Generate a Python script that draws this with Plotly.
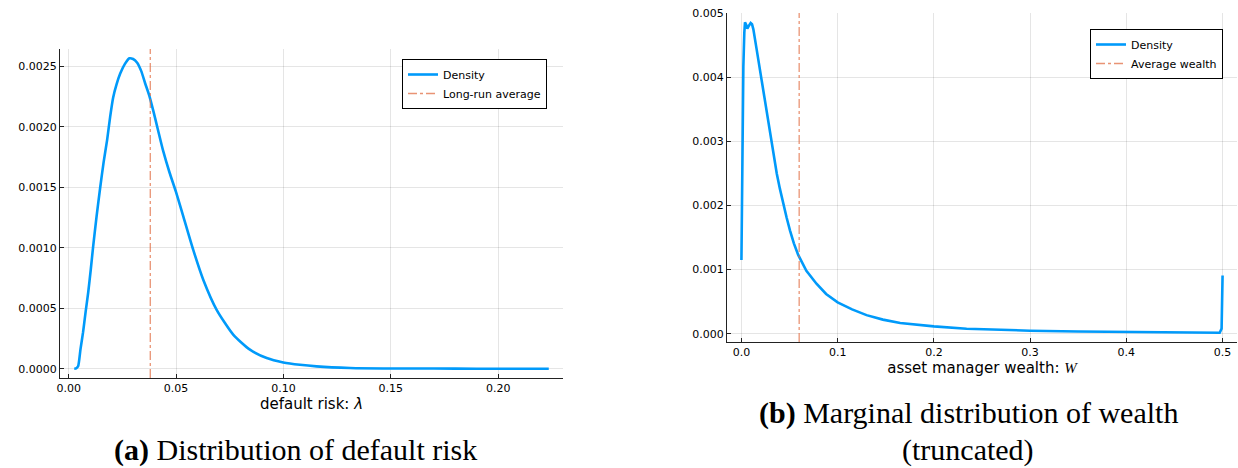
import plotly.graph_objects as go

# ---- data: panel (a) distribution of default risk ----
lam = [0.0026, 0.0035, 0.0044, 0.0055, 0.0067, 0.0079, 0.0091, 0.0103, 0.0114, 0.0130,
       0.0147, 0.0163, 0.0179, 0.0193, 0.0207, 0.0223, 0.0240, 0.0262, 0.0283, 0.0300,
       0.0319, 0.0338, 0.0356, 0.0375, 0.0393, 0.0415, 0.0440, 0.0470, 0.0500, 0.0534,
       0.0580, 0.0627, 0.0689, 0.0767, 0.0844, 0.0922, 0.0999, 0.1077, 0.1154, 0.131,
       0.150, 0.170, 0.190, 0.210, 0.2235]
lam_density = [0.0, 0.000003, 0.00002, 0.00016, 0.0003, 0.00047, 0.00063, 0.00082, 0.00101, 0.00126,
               0.0015, 0.00171, 0.00189, 0.00208, 0.00224, 0.00235, 0.00244, 0.00252, 0.002566, 0.00256,
               0.00253, 0.00246, 0.00236, 0.00226, 0.00214, 0.00198, 0.00180, 0.00162, 0.00146, 0.001257,
               0.000982, 0.000734, 0.000487, 0.00028, 0.000157, 0.000088, 0.000052, 0.000032, 0.000019, 0.000006,
               0.000002, 0.000001, 0.0, 0.0, 0.0]
lam_average = 0.038

# ---- data: panel (b) marginal distribution of wealth ----
wealth = [0.0, 0.001, 0.002, 0.003, 0.0037, 0.005, 0.0061, 0.0075, 0.0096, 0.011,
          0.0124, 0.0159, 0.0193, 0.0228, 0.0262, 0.0297, 0.0332, 0.0367, 0.0400, 0.0435,
          0.0470, 0.0505, 0.0545, 0.059, 0.0675, 0.078, 0.088, 0.100, 0.115, 0.130,
          0.147, 0.165, 0.182, 0.200, 0.234, 0.260, 0.289, 0.300, 0.350, 0.400,
          0.450, 0.497, 0.499, 0.500]
wealth_density = [0.00115, 0.0028, 0.00417, 0.0047, 0.00486, 0.00482, 0.00476, 0.0048, 0.00485, 0.00483,
                  0.00475, 0.00443, 0.00412, 0.00381, 0.00347, 0.00313, 0.00280, 0.00250, 0.00226, 0.00202,
                  0.00181, 0.00161, 0.00141, 0.00123, 0.00098, 0.00078, 0.00062, 0.00049, 0.00038, 0.00029,
                  0.00022, 0.000166, 0.000138, 0.000114, 0.000078, 0.000064, 0.000052, 0.000047, 0.000034, 0.000025,
                  0.00002, 0.000016, 0.00008, 0.00091]
wealth_average = 0.06

# tick labels
left_xticks = [0.0, 0.05, 0.10, 0.15, 0.20]
left_yticks = [0.0, 0.0005, 0.0010, 0.0015, 0.0020, 0.0025]
right_xticks = [0.0, 0.1, 0.2, 0.3, 0.4, 0.5]
right_yticks = [0.0, 0.001, 0.002, 0.003, 0.004, 0.005]

# ---- styling ----
W_, H_ = 1238, 468
BLUE = "#009AFA"
ORANGE = "rgba(226,111,70,0.75)"
SANS = "DejaVu Sans"
SERIF = "Liberation Serif"


def pad(lo, hi, f=0.03):
    r = hi - lo
    return [lo - f * r, hi + f * r]


lx_range = pad(min(lam), max(lam))
ly_range = pad(min(lam_density), max(lam_density))
rx_range = pad(min(wealth), max(wealth))
ry_range = pad(min(wealth_density), max(wealth_density))

fig = go.Figure()

fig.add_trace(go.Scatter(x=lam, y=lam_density, mode="lines", name="Density",
                         line=dict(color=BLUE, width=2.6, shape="spline", smoothing=0.6),
                         xaxis="x", yaxis="y", legend="legend"))
fig.add_trace(go.Scatter(x=[lam_average, lam_average], y=ly_range, mode="lines",
                         name="Long-run average",
                         line=dict(color=ORANGE, width=1.3, dash="dashdot"),
                         xaxis="x", yaxis="y", legend="legend"))
fig.add_trace(go.Scatter(x=wealth, y=wealth_density, mode="lines", name="Density",
                         line=dict(color=BLUE, width=2.6), xaxis="x2", yaxis="y2",
                         legend="legend2"))
fig.add_trace(go.Scatter(x=[wealth_average, wealth_average], y=ry_range, mode="lines",
                         name="Average wealth",
                         line=dict(color=ORANGE, width=1.3, dash="dashdot"),
                         xaxis="x2", yaxis="y2", legend="legend2"))

axis_common = dict(showgrid=True, gridcolor="rgba(0,0,0,0.1)", gridwidth=1,
                   showline=True, linecolor="#222", linewidth=1,
                   ticks="inside", ticklen=4, tickcolor="#222", automargin=False,
                   zeroline=False, tickfont=dict(family=SANS, size=11, color="#000"),
                   title_font=dict(family=SANS, size=15, color="#000"))


def px_x(p):
    return p / W_


def px_y(p):
    return (H_ - p) / H_


legend_common = dict(xanchor="right", yanchor="top", bgcolor="white",
                     bordercolor="#000", borderwidth=1, itemwidth=30,
                     font=dict(family=SANS, size=11, color="#000"), tracegroupgap=0)

fig.update_layout(
    width=W_, height=H_, margin=dict(l=0, r=0, t=0, b=0, autoexpand=False),
    paper_bgcolor="white", plot_bgcolor="white",
    xaxis=dict(domain=[px_x(60), px_x(563)], range=lx_range, anchor="y",
               tickvals=left_xticks, tickformat=".2f",
               title=dict(text="default risk: <i>λ</i>", standoff=4), **axis_common),
    yaxis=dict(domain=[px_y(378), px_y(49)], range=ly_range, anchor="x",
               tickvals=left_yticks, tickformat=".4f", **axis_common),
    xaxis2=dict(domain=[px_x(727), px_x(1237)], range=rx_range, anchor="y2",
                tickvals=right_xticks, tickformat=".1f",
                title=dict(text="asset manager wealth: <span style='font-family:Liberation Serif'><i>W</i></span>",
                           standoff=4), **axis_common),
    yaxis2=dict(domain=[px_y(342), px_y(13)], range=ry_range, anchor="x2",
                tickvals=right_yticks, tickformat=".3f", **axis_common),
    legend=dict(x=px_x(547), y=px_y(59), **legend_common),
    legend2=dict(x=px_x(1223), y=px_y(29), **legend_common),
    showlegend=True,
)

caption_font = dict(family=SERIF, size=30, color="#000")
fig.add_annotation(text="<b>(a)</b> Distribution of default risk", x=px_x(295), y=px_y(450),
                   xref="paper", yref="paper", xanchor="center", yanchor="middle",
                   showarrow=False, font=caption_font)
fig.add_annotation(text="<b>(b)</b> Marginal distribution of wealth", x=px_x(968), y=px_y(413),
                   xref="paper", yref="paper", xanchor="center", yanchor="middle",
                   showarrow=False, font=caption_font)
fig.add_annotation(text="(truncated)", x=px_x(968), y=px_y(450),
                   xref="paper", yref="paper", xanchor="center", yanchor="middle",
                   showarrow=False, font=caption_font)

fig.write_html("out.html", config={"displayModeBar": False},
               post_script="document.body.style.margin='0px';document.body.style.overflow='hidden';")
